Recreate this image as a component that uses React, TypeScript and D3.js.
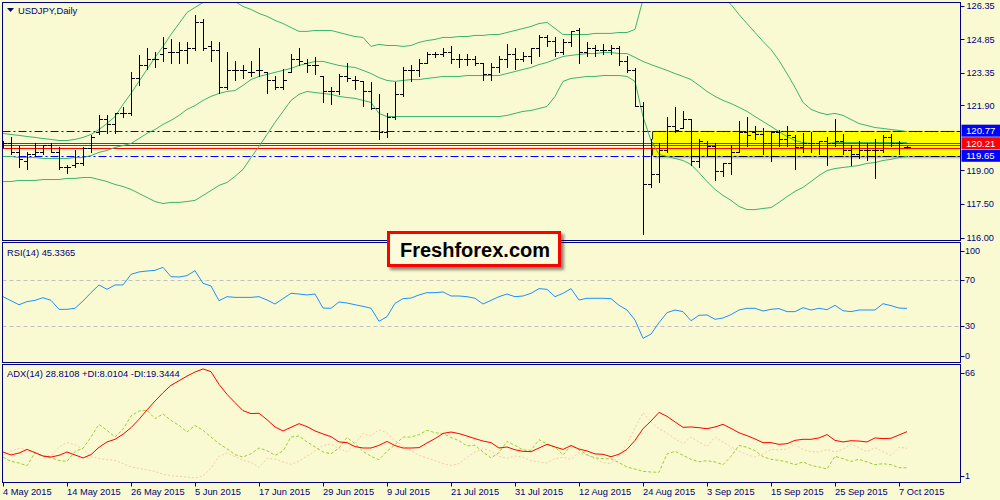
import React from "react";
import * as d3 from "d3";

const TIME_LABELS = ["4 May 2015","14 May 2015","26 May 2015","5 Jun 2015","17 Jun 2015","29 Jun 2015","9 Jul 2015","21 Jul 2015","31 Jul 2015","12 Aug 2015","24 Aug 2015","3 Sep 2015","15 Sep 2015","25 Sep 2015","7 Oct 2015"];
const PRICE_TICKS = [126.35, 124.85, 123.35, 121.9, 119.0, 117.5, 116.0];
const LEVELS = [120.77, 120.21, 119.65];
const RED_LINES = [120.21, 120.14, 120.0];
const ZONE_FROM = 81.2;
const RSI_TICKS = [100, 70, 30, 0];
const RSI_LEVELS = [70, 30];
const ADX_TICKS = [66, 1];

const OPEN = [120.24,120.24,119.84,119.40,119.75,119.80,120.15,119.84,119.17,119.22,
119.35,119.98,120.69,121.27,121.05,121.58,121.58,123.14,123.72,123.99,
124.17,124.26,124.26,124.35,124.44,125.64,124.53,124.39,122.74,123.46,
123.46,123.41,123.46,123.41,123.01,122.74,123.41,123.99,123.81,123.68,
123.19,122.56,122.56,123.19,123.05,122.97,122.56,121.76,120.69,121.40,
122.39,123.46,123.46,123.81,124.17,124.17,124.30,123.95,123.95,123.99,
123.81,123.28,123.59,123.99,124.17,123.99,124.08,124.44,124.97,124.75,
124.26,124.71,125.24,124.26,124.48,124.35,124.39,124.44,123.86,123.46,
121.89,118.41,118.82,119.93,121.00,120.91,121.27,119.40,120.24,120.07,
118.95,119.35,119.80,120.69,120.69,120.60,120.24,120.69,120.38,120.51,
120.02,120.24,120.24,120.29,120.24,120.29,119.89,119.75,119.89,119.93,
119.89,120.51,120.24,120.02];
const HIGH = [120.33,120.51,120.07,119.80,120.24,120.15,120.24,120.02,119.26,119.93,
120.02,120.56,121.49,121.45,121.58,121.81,123.41,124.13,124.48,124.26,
124.97,124.88,124.71,124.71,125.91,125.73,124.75,124.71,124.26,123.86,
123.72,123.86,124.48,123.41,123.23,123.50,124.21,124.44,123.95,124.04,
123.23,122.74,123.28,123.77,123.23,122.97,122.92,122.39,121.58,122.92,
123.59,123.72,123.99,124.26,124.26,124.44,124.53,124.17,124.21,124.08,
123.81,123.81,124.08,124.62,124.44,124.30,124.44,125.06,125.02,124.97,
124.84,125.20,125.33,124.71,124.57,124.62,124.57,124.53,124.08,123.55,
122.07,120.42,120.24,121.40,121.81,121.67,121.27,120.38,120.29,120.24,
119.35,120.11,121.18,121.36,121.00,120.87,120.73,120.78,121.00,120.56,
120.65,120.69,120.33,120.51,121.27,120.60,120.11,120.33,120.24,120.42,
120.56,120.60,120.33,120.07];
const LOW = [120.02,119.71,119.17,119.08,119.62,119.71,119.80,119.04,118.90,119.17,
119.26,119.80,120.60,120.65,120.65,121.40,121.49,122.83,123.50,123.63,
123.86,123.77,123.81,123.81,124.39,124.39,123.86,122.43,122.61,123.05,
123.14,123.19,123.19,122.47,122.61,122.61,123.37,123.72,123.37,123.28,
122.07,121.98,122.39,122.97,122.65,121.89,121.72,120.42,120.47,121.31,
122.30,122.97,123.19,123.77,124.04,124.08,123.81,123.59,123.72,123.68,
123.05,123.05,123.37,123.63,123.50,123.86,123.81,124.08,124.53,124.08,
124.17,124.53,123.81,124.08,124.08,124.17,124.17,123.72,123.37,121.85,
116.14,118.24,118.46,119.80,120.69,120.87,119.26,119.17,119.62,118.55,
118.77,118.82,119.80,120.07,120.42,119.71,119.40,120.07,120.07,119.08,
119.80,119.84,119.71,119.22,120.07,119.71,119.26,119.57,119.44,118.68,
119.84,120.07,119.71,119.98];
const CLOSE = [120.20,119.84,119.49,119.75,119.80,120.11,119.84,119.17,119.17,119.31,
119.98,120.51,121.27,121.05,121.58,121.58,123.14,123.72,123.99,123.99,
124.44,124.26,124.35,124.44,125.64,124.48,124.39,122.74,123.46,123.46,
123.46,123.41,123.46,123.01,122.74,123.01,123.99,123.86,123.68,123.68,
122.56,122.56,123.19,123.10,123.05,122.56,121.76,120.69,121.36,122.39,
123.46,123.46,123.81,124.17,124.17,124.30,123.95,123.95,123.99,123.81,
123.28,123.59,123.99,124.17,123.99,124.08,124.44,124.97,124.75,124.26,
124.71,125.20,124.26,124.48,124.35,124.39,124.44,123.86,123.46,121.89,
118.41,118.82,119.93,121.00,120.78,121.27,119.40,120.33,120.07,118.95,
119.35,119.80,120.69,120.56,120.60,120.24,120.69,120.42,120.56,120.02,
120.24,120.24,120.29,120.24,120.29,119.89,119.75,119.89,119.93,119.89,
120.51,120.24,120.20,120.02];

const BB_UPPER = [120.65,120.60,120.56,120.51,120.47,120.42,120.38,120.33,120.33,120.38,
120.47,120.60,120.82,121.09,121.40,121.94,122.43,122.97,123.50,124.04,
124.53,125.06,125.55,126.04,126.27,126.49,126.71,126.76,126.67,126.53,
126.31,126.18,126.00,125.87,125.69,125.55,125.37,125.20,125.20,125.24,
125.24,125.24,125.15,125.06,124.97,124.93,124.53,124.62,124.57,124.57,
124.53,124.57,124.71,124.79,124.84,124.93,124.93,124.97,124.97,125.02,
125.02,125.06,125.06,125.15,125.24,125.33,125.42,125.55,125.60,125.33,
125.06,125.06,125.06,125.06,125.11,125.11,125.11,125.15,125.15,125.29,
126.62,126.85,127.16,127.29,127.25,127.20,127.16,127.07,126.98,126.94,
126.71,126.40,125.95,125.55,125.15,124.75,124.39,123.90,123.32,122.70,
122.03,121.72,121.58,121.49,121.54,121.45,121.27,121.09,121.00,120.91,
120.87,120.82,120.78,120.73];
const BB_MIDDLE = [119.62,119.62,119.57,119.57,119.57,119.53,119.53,119.53,119.53,119.57,
119.57,119.66,119.80,119.89,120.02,120.11,120.20,120.42,120.65,120.82,
121.05,121.23,121.45,121.72,121.89,122.12,122.30,122.43,122.52,122.56,
122.79,123.05,123.19,123.28,123.37,123.46,123.55,123.68,123.77,123.86,
123.86,123.77,123.68,123.63,123.59,123.46,123.32,123.14,123.01,122.97,
123.01,123.05,123.05,123.10,123.14,123.19,123.19,123.19,123.23,123.23,
123.23,123.23,123.23,123.32,123.41,123.50,123.59,123.72,123.81,123.95,
124.08,124.13,124.17,124.21,124.21,124.26,124.26,124.21,124.21,124.04,
123.86,123.72,123.59,123.46,123.32,123.19,123.05,122.79,122.52,122.30,
122.12,121.98,121.81,121.63,121.40,121.18,120.96,120.73,120.51,120.33,
120.24,120.20,120.20,120.20,120.24,120.24,120.24,120.24,120.24,120.24,
120.24,120.24,120.24,120.24];
const BB_LOWER = [118.50,118.50,118.55,118.55,118.55,118.59,118.59,118.59,118.64,118.64,
118.68,118.68,118.59,118.50,118.37,118.28,118.15,117.97,117.79,117.61,
117.52,117.57,117.57,117.61,117.66,117.88,118.10,118.33,118.46,118.73,
119.04,119.57,120.07,120.60,121.14,121.63,122.12,122.39,122.52,122.47,
122.43,122.39,122.30,122.25,122.21,122.12,122.03,121.54,121.40,121.40,
121.40,121.40,121.40,121.40,121.40,121.40,121.40,121.40,121.40,121.40,
121.40,121.40,121.40,121.45,121.54,121.63,121.67,121.76,121.85,122.30,
122.97,123.10,123.14,123.19,123.19,123.23,123.23,123.23,123.19,122.97,
121.40,120.33,119.71,119.62,119.53,119.44,119.26,118.90,118.50,118.15,
117.88,117.66,117.39,117.25,117.25,117.30,117.34,117.57,117.83,118.06,
118.24,118.50,118.77,118.99,119.08,119.13,119.17,119.22,119.31,119.35,
119.44,119.49,119.57,119.62];

const RSI = [55.5,52.0,48.5,51.2,52.3,54.6,52.3,44.5,44.5,45.4,
51.7,59.0,65.7,61.9,65.7,65.7,74.9,77.0,77.8,78.4,
81.0,72.9,72.6,73.8,78.1,67.1,64.8,52.0,55.5,54.9,
54.9,54.9,55.5,52.6,49.1,53.8,58.4,57.8,57.0,57.8,
45.6,45.4,50.9,50.0,48.5,47.1,45.4,34.1,38.1,49.7,
53.8,54.3,57.0,59.0,59.0,59.6,56.1,56.1,55.5,54.1,
49.1,52.3,55.5,57.8,55.5,56.1,58.4,62.5,61.9,55.5,
58.4,62.5,52.6,54.1,54.1,54.1,53.8,48.0,43.9,35.2,
19.3,23.0,32.9,41.6,43.9,42.5,34.6,39.3,39.6,35.8,
37.0,39.9,43.9,45.4,45.4,43.0,44.5,45.1,42.5,42.5,
45.9,43.9,45.4,44.2,48.0,43.3,42.5,43.9,43.9,43.9,
49.4,47.7,45.6,45.3];

const ADX = [17.1,15.4,16.5,18.6,16.7,14.8,14.2,15.2,17.1,15.4,
13.7,15.6,19.8,22.9,24.4,27.3,31.1,35.9,41.3,46.4,
51.2,55.5,58.1,60.8,63.1,64.9,63.3,56.0,50.3,45.5,
40.9,39.2,39.4,35.7,31.5,29.2,31.3,33.4,31.7,29.2,
27.5,25.9,22.9,22.5,20.2,19.4,19.4,20.9,23.2,20.8,
19.4,19.4,19.6,22.3,24.8,27.8,28.6,27.7,26.3,24.8,
23.4,22.5,19.4,20.0,18.4,17.5,17.3,19.4,21.5,20.0,
18.6,20.8,18.8,17.7,16.0,15.8,14.4,15.8,18.6,23.8,
30.5,34.9,39.9,37.6,34.4,31.3,31.5,31.1,30.5,31.5,
33.0,30.7,28.2,26.5,24.6,22.5,22.5,21.5,21.9,23.8,
24.4,24.4,25.2,27.1,23.8,22.9,23.6,23.4,22.9,25.2,
24.8,25.0,26.9,28.8];
const PLUS_DI = [14.2,11.7,10.8,9.2,16.7,14.6,13.7,12.3,11.7,17.5,
19.2,25.7,33.0,29.6,25.7,30.1,37.8,40.7,41.1,36.3,
39.0,35.3,32.4,28.6,32.4,29.6,25.7,21.9,19.0,15.6,
14.2,16.1,19.4,17.9,15.2,17.7,25.7,26.3,22.9,20.0,
17.1,16.1,19.4,25.5,21.9,17.5,14.6,12.7,17.5,21.3,
25.7,25.7,27.1,29.6,28.2,27.7,25.5,23.6,20.6,21.0,
17.1,13.7,16.7,23.2,20.9,18.3,18.1,24.2,21.7,20.0,
15.4,20.9,18.3,15.6,13.7,13.3,13.1,11.0,8.5,7.3,
6.0,5.6,5.4,16.0,17.5,15.2,12.9,11.5,12.1,11.4,
9.8,14.6,20.9,19.8,17.9,14.4,12.9,12.3,11.4,9.8,
11.4,9.4,8.5,7.3,14.6,13.3,11.7,12.9,11.4,9.8,
10.4,9.8,8.1,8.0];
const MINUS_DI = [15.2,17.5,19.2,18.6,17.1,14.8,14.8,20.0,22.5,21.3,
18.6,14.4,13.3,12.7,12.3,10.4,8.5,7.7,6.8,6.0,
4.3,3.5,3.1,2.7,2.2,3.3,7.9,14.6,16.5,14.4,
12.3,11.2,8.3,13.3,13.1,11.5,10.0,11.9,14.8,17.7,
20.9,21.7,19.0,17.3,21.9,27.8,26.3,30.0,28.0,23.6,
20.4,17.9,15.2,13.7,12.1,10.4,9.4,10.4,14.0,17.1,
19.0,17.7,14.6,13.5,14.8,14.2,12.1,11.4,10.8,13.3,
14.0,12.9,16.7,15.2,13.1,11.0,10.4,15.6,21.9,31.1,
39.7,34.4,30.5,28.0,24.7,21.9,25.7,22.8,20.3,25.7,
22.8,20.1,17.6,15.7,14.2,15.9,18.6,18.4,18.8,21.7,
18.4,17.3,17.1,18.6,17.1,18.8,21.7,19.4,17.3,19.6,
17.3,15.1,19.8,19.3];

const FONT = "'Liberation Sans', Arial, sans-serif";
const NAVY = "#000080";
const BG = "#fafad2";

export default function App() {
  const N = CLOSE.length;
  const fmt = d3.timeFormat("%-d %b %Y");
  const dates: Date[] = [];
  let d = new Date(2015, 4, 4);
  while (dates.length < N) {
    const wd = d.getDay();
    if (wd !== 0 && wd !== 6) dates.push(new Date(d));
    d = d3.timeDay.offset(d, 1);
  }

  const L = 2.5, R = 960.5;
  const MAIN = { top: 2.5, bottom: 240.5 };
  const RSIP = { top: 242.5, bottom: 362.5 };
  const ADXP = { top: 364.5, bottom: 482.5 };

  const x = d3.scaleLinear().domain([0, N - 1]).range([3, 3 + 8 * (N - 1)]);
  const yP = d3.scaleLinear().domain([116, 126.35]).range([237.6, 5.6]);
  const yR = d3.scaleLinear().domain([0, 100]).range([360.5, 245.5]);
  const yA = d3.scaleLinear().domain([1, 66]).range([480, 367]);
  const px = (i: number) => Math.round(x(i)) + 0.5;
  const py = (v: number) => Math.round(yP(v)) + 0.5;

  const mk = (ys: (v: number) => number) =>
    d3.line<number>().x((_, i) => x(i)).y((v) => ys(v));
  const lineP = mk(yP), lineR = mk(yR), lineA = mk(yA);

  let bars = "";
  for (let i = 0; i < N; i++) {
    const xi = px(i);
    bars += `M${xi},${Math.round(yP(HIGH[i]))}V${Math.round(yP(LOW[i])) + 1}`;
    bars += `M${xi - 3.5},${py(OPEN[i])}H${xi}`;
    bars += `M${xi},${py(CLOSE[i])}H${xi + 3.5}`;
  }

  const clampLbl = (y: number, p: { top: number; bottom: number }) =>
    Math.max(p.top + 8, Math.min(p.bottom - 7, y));

  const levelColors = ["#0000ff", "#ff0000", "#0000ff"];
  const zoneTop = yP(LEVELS[0]);
  const zoneBot = yP(LEVELS[2]);

  return (
    <div style={{ position: "absolute", left: 0, top: 0 }}>
      <svg width={1000} height={500} style={{ display: "block", fontFamily: FONT }}>
        <defs>
          <clipPath id="cm"><rect x={L + 0.5} y={MAIN.top + 0.5} width={R - L - 1} height={MAIN.bottom - MAIN.top - 1} /></clipPath>
          <clipPath id="cr"><rect x={L + 0.5} y={RSIP.top + 0.5} width={R - L - 1} height={RSIP.bottom - RSIP.top - 1} /></clipPath>
          <clipPath id="ca"><rect x={L + 0.5} y={ADXP.top + 0.5} width={R - L - 1} height={ADXP.bottom - ADXP.top - 1} /></clipPath>
          <filter id="sh" x="-10%" y="-20%" width="130%" height="160%">
            <feDropShadow dx="3" dy="3" stdDeviation="1.5" floodColor="#000" floodOpacity="0.45" />
          </filter>
          <filter id="sh2" x="-5%" y="-20%" width="110%" height="160%">
            <feDropShadow dx="1" dy="2" stdDeviation="1" floodColor="#000" floodOpacity="0.35" />
          </filter>
        </defs>
        <rect x={0} y={0} width={1000} height={500} fill={BG} />

        {/* MAIN PANEL */}
        <g clipPath="url(#cm)">
          <rect x={x(ZONE_FROM)} y={zoneTop} width={R - x(ZONE_FROM)} height={zoneBot - zoneTop} fill="#ffff00" filter="url(#sh2)" />
          {[LEVELS[0], LEVELS[2]].map((v, k) => (
            <line key={k} x1={L} x2={R} y1={py(v)} y2={py(v)} stroke="#0000ff" strokeDasharray="8,3,2,3" />
          ))}
          <path d={`M${x(ZONE_FROM)},${py(LEVELS[0])}H${R}M${x(ZONE_FROM)},${py(LEVELS[0])}V${py(LEVELS[2])}H${R}`} fill="none" stroke="#000" strokeDasharray="8,3,2,3" opacity={0.85} />
          {RED_LINES.map((v, k) => (
            <line key={k} x1={L} x2={R} y1={py(v)} y2={py(v)} stroke="#ff0000" />
          ))}
          <path d={lineP(BB_UPPER) || ""} fill="none" stroke="#3cb371" />
          <path d={lineP(BB_MIDDLE) || ""} fill="none" stroke="#3cb371" />
          <path d={lineP(BB_LOWER) || ""} fill="none" stroke="#3cb371" />
          <path d={bars} stroke="#000" fill="none" shapeRendering="crispEdges" />
        </g>
        <path d="M7,8H14L10.5,12Z" fill={NAVY} />
        <text x={18} y={14} fontSize={9.4} fill={NAVY}>USDJPY,Daily</text>

        {/* price axis */}
        {PRICE_TICKS.map((v) => (
          <g key={v}>
            <line x1={R} x2={R + 4} y1={py(v)} y2={py(v)} stroke={NAVY} />
            <text x={966.5} y={yP(v) + 3.3} fontSize={9.2} fill={NAVY}>{v.toFixed(2)}</text>
          </g>
        ))}
        {LEVELS.map((v, k) => (
          <g key={v}>
            <rect x={961.5} y={yP(v) - 6} width={38.5} height={12} fill={levelColors[k]} />
            <text x={966} y={yP(v) + 3.5} fontSize={9.6} fill="#fff">{v.toFixed(2)}</text>
          </g>
        ))}

        {/* RSI PANEL */}
        <g clipPath="url(#cr)">
          {RSI_LEVELS.map((v) => (
            <line key={v} x1={L} x2={R} y1={Math.round(yR(v)) + 0.5} y2={Math.round(yR(v)) + 0.5} stroke="#c0c0c0" strokeDasharray="4,3" />
          ))}
          <path d={lineR(RSI) || ""} fill="none" stroke="#1e90ff" />
        </g>
        <text x={7} y={256} fontSize={9.3} fill={NAVY}>RSI(14) {RSI[N - 1] === 45.3 ? "45.3365" : RSI[N - 1].toFixed(4)}</text>
        {RSI_TICKS.map((v) => (
          <g key={v}>
            <line x1={R} x2={R + 4} y1={Math.round(clampLbl(yR(v), RSIP)) + 0.5} y2={Math.round(clampLbl(yR(v), RSIP)) + 0.5} stroke={NAVY} />
            <text x={965} y={clampLbl(yR(v), RSIP) + 3.2} fontSize={9} fill={NAVY}>{v}</text>
          </g>
        ))}

        {/* ADX PANEL */}
        <g clipPath="url(#ca)">
          <path d={lineA(MINUS_DI) || ""} fill="none" stroke="#f6c9ab" strokeDasharray="2,2" />
          <path d={lineA(PLUS_DI) || ""} fill="none" stroke="#9acd32" strokeDasharray="3,2" />
          <path d={lineA(ADX) || ""} fill="none" stroke="#ff0000" />
        </g>
        <text x={7} y={377} fontSize={9.4} fill={NAVY}>ADX(14) 28.8108 +DI:8.0104 -DI:19.3444</text>
        {ADX_TICKS.map((v) => (
          <g key={v}>
            <line x1={R} x2={R + 4} y1={Math.round(clampLbl(yA(v), ADXP)) + 0.5} y2={Math.round(clampLbl(yA(v), ADXP)) + 0.5} stroke={NAVY} />
            <text x={965} y={clampLbl(yA(v), ADXP) + 3.2} fontSize={9} fill={NAVY}>{v}</text>
          </g>
        ))}

        {/* frames */}
        {[MAIN, RSIP, ADXP].map((p, k) => (
          <rect key={k} x={L} y={p.top} width={R - L} height={p.bottom - p.top} fill="none" stroke={NAVY} />
        ))}

        {/* time axis */}
        {TIME_LABELS.map((lab) => {
          const i = dates.findIndex((dd) => fmt(dd) === lab);
          if (i < 0) return null;
          return (
            <g key={lab}>
              <line x1={px(i)} x2={px(i)} y1={ADXP.bottom} y2={ADXP.bottom + 4} stroke={NAVY} />
              <text x={x(i)} y={495} fontSize={9.3} fill={NAVY}>{lab}</text>
            </g>
          );
        })}

        {/* watermark */}
        <g filter="url(#sh)">
          <rect x={388.5} y={232.5} width={171} height={33} fill="#fcfcdc" stroke="#ff0000" strokeWidth={3} />
        </g>
        <text x={400} y={257} fontSize={20} fontWeight="bold" fill="#000">Freshforex.com</text>
      </svg>
    </div>
  );
}
